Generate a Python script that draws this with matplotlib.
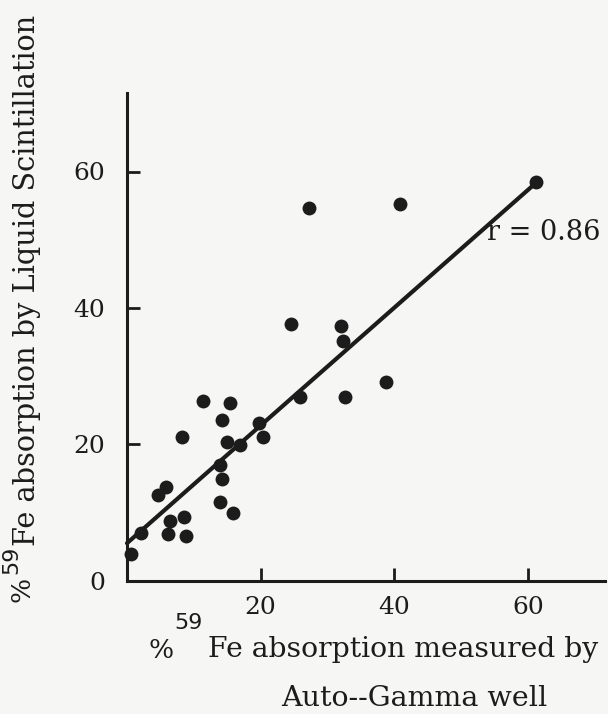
import matplotlib
matplotlib.use("Agg")
import matplotlib.pyplot as plt
import numpy as np

# Data
x_gamma = [0.55, 2.05, 6.1, 8.8, 6.4, 8.5, 4.6, 5.8, 8.3, 11.4, 15.4, 14.2, 14.9,
           16.9, 13.9, 14.2, 13.9, 15.8, 19.7, 20.4, 25.9, 27.2, 40.9, 24.6, 32.1,
           32.4, 38.7, 32.7, 61.3]
y_liquid = [3.9, 7.0, 6.8, 6.6, 8.8, 9.4, 12.5, 13.7, 21.1, 26.3, 26.1, 23.6, 20.4,
            19.9, 17.0, 14.9, 11.6, 10.0, 23.1, 21.1, 26.9, 54.7, 55.2, 37.6, 37.4,
            35.2, 29.1, 26.9, 58.4]
fit_intercept = 5.5
fit_slope = 0.863
fit_x_range = [0.0, 61.3]
x_ticks = [20, 40, 60]
y_ticks = [0, 20, 40, 60]
r_label = "r = 0.86"

W, H = 608, 714
fig = plt.figure(figsize=(W / 100, H / 100), dpi=100)
bg = "#f6f6f4"
ink = "#1c1c1c"
fig.patch.set_facecolor(bg)

ax = fig.add_axes([127 / W, 1 - 580.7 / H, (605 - 127) / W, (580.7 - 92.7) / H])
ax.set_facecolor(bg)
ax.set_xlim(0, (605 - 127) / 6.68)
ax.set_ylim(0, (580.7 - 92.7) / 6.82)

for s in ["top", "right"]:
    ax.spines[s].set_visible(False)
for s in ["left", "bottom"]:
    ax.spines[s].set_linewidth(2.2)
    ax.spines[s].set_color(ink)

ax.set_xticks(x_ticks)
ax.set_yticks(y_ticks)
ax.tick_params(direction="in", length=9.5, width=2.0, color=ink,
               labelsize=18, labelcolor=ink)
ax.tick_params(axis="y", pad=16)
ax.tick_params(axis="x", pad=11)
for lab in ax.get_xticklabels() + ax.get_yticklabels():
    lab.set_fontfamily("DejaVu Serif")

xf = np.array(fit_x_range)
ax.plot(xf, fit_intercept + fit_slope * xf, color=ink, lw=3.0, solid_capstyle="round",
        zorder=2, clip_on=False)
ax.scatter(x_gamma, y_liquid, s=100, color=ink, zorder=3, clip_on=False, linewidths=0)

ax.text(53.9, 51.1, r_label, fontsize=19.5, family="DejaVu Serif", color=ink,
        ha="left", va="center")


def ftext(px, py, s, fam="DejaVu Serif", **kw):
    fig.text(px / W, 1 - py / H, s, color=ink, family=fam, **kw)


# x-axis label
ftext(161, 650, "%", fontsize=19, ha="center", va="center")
ftext(188, 623, "59", fam="DejaVu Sans", fontsize=16, ha="center", va="center")
ftext(208, 657, "Fe absorption measured by", fontsize=20.3, ha="left", va="baseline")
ftext(414, 706, "Auto--Gamma well", fontsize=20.5, ha="center", va="baseline")

# y-axis label
ftext(22, 589, "%", fontsize=19, ha="center", va="center", rotation=90)
ftext(11, 560, "59", fam="DejaVu Sans", fontsize=16, ha="center", va="center",
      rotation=90)
ftext(27, 546, "Fe absorption by Liquid Scintillation", fontsize=20.7,
      ha="center", va="bottom", rotation=90)

fig.savefig("out.png", dpi=100, facecolor=bg)
